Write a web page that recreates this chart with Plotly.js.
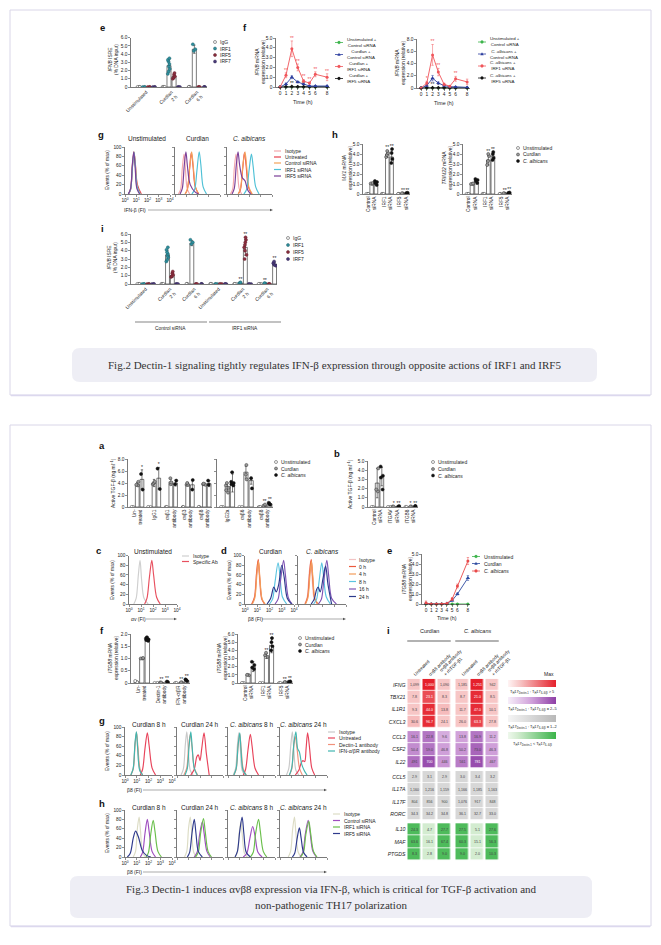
<!DOCTYPE html>
<html><head><meta charset="utf-8">
<script src="https://cdn.plot.ly/plotly-3.0.1.min.js"></script>
<style>html,body{margin:0;padding:0;background:#fff;}#chart{width:661px;height:945px;}</style>
</head><body><div id="chart"></div>
<script>
// ================= DATA =================
const tick5=['0','1.0','2.0','3.0','4.0','5.0'];
const tick6=['0','1.0','2.0','3.0','4.0','5.0','6.0'];
const tick8=['0','2.0','4.0','6.0','8.0'];
const tick2=['0','0.5','1.0','1.5','2.0'];
const decadeLabels=['10<sup>0</sup>','10<sup>1</sup>','10<sup>2</sup>','10<sup>3</sup>','10<sup>4</sup>'];
const pctLabels=['0','20','40','60','80','100'];
const stimSeries=['Unstimulated','Curdlan','<i>C. albicans</i>'];
const z3=[0,0,0], z2=[0,0];

// Fig.2 e
const f2eGroups=['Unstimulated','Curdlan<br>2 h','Curdlan<br>6 h'];
const f2eSeries=['IgG','IRF1','IRF5','IRF7'];
const f2eMean=[[0,0,0],[0,2.6,4.6],[0,1.3,0],[0,0,0]];
const f2eErr=[[0,0,0],[0,0.75,0.5],[0,0.3,0],[0,0,0]];
const f2eDots=[[z3,z3,z3],[z3,[3.5,3.3,3.1,2.8,2.5,2.2,1.9,1.6],[5.2,4.6,4.4]],[z3,[1.7,1.5,1.3,1.15,1.0],z3],[z3,z3,z3]];

// Fig.2 f
const f2fTime=[0,1,2,3,4,5,6,8];
const f2fNamesC=['Unstimulated +<br>Control siRNA','Curdlan +<br>Control siRNA','Curdlan +<br>IRF1 siRNA','Curdlan +<br>IRF5 siRNA'];
const f2fNamesA=['Unstimulated +<br>Control siRNA','<i>C. albicans</i> +<br>Control siRNA','<i>C. albicans</i> +<br>IRF1 siRNA','<i>C. albicans</i> +<br>IRF5 siRNA'];
const f2fCurd=[[0,0,0,0,0,0,0,0],[0,0.3,1.0,0.5,0.3,0.1,0.1,0.1],[0,1.2,3.9,2.0,0.6,0.4,1.3,1.0],[0,0.03,0.05,0.03,0.03,0.02,0.02,0.02]];
const f2fCurdErr=[[0,0,0,0,0,0,0,0],[0,0.1,0.15,0.1,0.08,0.05,0.05,0.05],[0,0.25,0.8,0.35,0.15,0.1,0.25,0.35],[0,0,0,0,0,0,0,0]];
const f2fCurdStars=[['','','','','','','',''],['','','','','','','',''],['','**','**','**','**','**','**','**'],['','','**','**','**','','','']];
const f2fAlb=[[0,0,0,0,0,0,0,0],[0,0.4,1.6,0.8,0.4,0.2,0.2,0.1],[0,0.8,5.4,2.6,0.6,0.3,1.5,1.0],[0,0.03,0.05,0.03,0.03,0.02,0.02,0.02]];
const f2fAlbErr=[[0,0,0,0,0,0,0,0],[0,0.15,0.45,0.2,0.1,0.05,0.05,0.05],[0,0.3,1.7,0.6,0.2,0.1,0.4,0.45],[0,0,0,0,0,0,0,0]];
const f2fAlbStars=[['','','','','','','',''],['','','','','','','',''],['','*','**','**','','','**',''],['','','**','*','','','','']];

// Fig.2 g  (x = log10 fluorescence, y = % of max)
const f2gNames=['Isotype','Untreated','Control siRNA','IRF1 siRNA','IRF5 siRNA'];
const f2gUnstim=[
 [[0.3,0.5,0.65,0.78,0.9,1.05,1.3],[0,12,60,90,62,15,0]],
 [[0.3,0.5,0.65,0.8,0.92,1.1,1.45],[0,10,55,88,65,20,0]],
 [[0.3,0.5,0.65,0.8,0.92,1.08,1.35],[0,10,58,90,62,16,0]],
 [[0.3,0.5,0.66,0.8,0.92,1.08,1.35],[0,10,56,89,60,15,0]],
 [[0.3,0.5,0.65,0.78,0.9,1.05,1.3],[0,12,62,90,58,12,0]]];
const f2gCurd=[
 [[0.3,0.5,0.65,0.8,0.92,1.08,1.3],[0,10,55,85,55,12,0]],
 [[0.9,1.1,1.3,1.45,1.6,1.8,2.1],[0,10,55,88,60,15,0]],
 [[0.9,1.1,1.3,1.48,1.62,1.82,2.1],[0,10,55,90,60,15,0]],
 [[1.5,1.75,1.95,2.15,2.3,2.5,2.8],[0,10,50,90,62,15,0]],
 [[0.45,0.65,0.82,0.97,1.1,1.35,1.8,2.1],[0,12,60,90,60,20,4,0]]];
const f2gAlb=[
 [[0.3,0.5,0.65,0.8,0.92,1.08,1.3],[0,10,55,85,55,12,0]],
 [[1.0,1.2,1.4,1.55,1.7,1.9,2.2],[0,10,55,88,60,15,0]],
 [[1.0,1.2,1.4,1.6,1.75,1.95,2.25],[0,12,58,90,58,14,0]],
 [[1.5,1.75,1.95,2.17,2.32,2.55,2.85],[0,10,48,85,60,15,0]],
 [[0.45,0.65,0.82,0.98,1.12,1.35,1.6,1.85,2.1],[0,12,60,90,62,35,28,8,0]]];

// Fig.2 h
const f2hGroups=['Control<br>siRNA','IRF1<br>siRNA','IRF5<br>siRNA'];
const f2hMx1Mean=[[0,0,0],[1.0,4.0,0.05],[1.05,3.7,0.08]];
const f2hMx1Err=[[0,0,0],[0.05,0.35,0.03],[0.15,0.6,0.04]];
const f2hMx1Dots=[[z3,z3,z3],[[1.0,1.05,1.1],[4.3,4.1,3.9,3.7],[0.03,0.05,0.08]],[[0.9,1.1,1.2,1.3],[4.5,4.1,3.5,3.1],[0.05,0.1,0.12]]];
const f2hMx1Stars=[['','',''],['','**','**'],['','**','**']];
const f2hTrimMean=[[0,0,0],[1.0,3.4,0.05],[1.2,3.8,0.1]];
const f2hTrimErr=[[0,0,0],[0.05,0.5,0.03],[0.2,0.4,0.05]];
const f2hTrimDots=[[z3,z3,z3],[[1.0,1.05,1.0],[4.0,3.8,3.3,2.9],[0.03,0.05,0.08]],[[1.1,1.3,1.4,1.5],[4.2,4.0,3.6,3.4],[0.08,0.1,0.15]]];
const f2hTrimStars=[['','',''],['','**','**'],['','**','**']];

// Fig.2 i
const f2iGroups=['Unstimulated','Curdlan<br>2 h','Curdlan<br>6 h','Unstimulated','Curdlan<br>2 h','Curdlan<br>6 h'];
const f2iMean=[[0,0,0,0,0,0],[0,3.5,4.9,0,0.12,0.08],[0,1.05,0,0,4.4,0],[0,0,0,0,0,2.4]];
const f2iErr=[[0,0,0,0,0,0],[0,0.55,0.3,0,0.08,0.05],[0,0.25,0,0,0.95,0],[0,0,0,0,0,0.2]];
const f2iDots=[[z3,z3,z3,z3,z3,z3],[z3,[4.4,4.1,3.8,3.6,3.4,3.2,2.9,2.7],[5.3,5.0,4.8],z3,[0.2,0.12,0.08],[0.1,0.06,0.05]],[z3,[1.5,1.3,1.1,0.95,0.85],z3,z3,[5.6,5.3,5.0,4.7,4.4,4.0,3.5,3.0],z3],[z3,z3,z3,z3,z3,[2.7,2.5,2.3,2.2]]];
const f2iStars=[['','','','','',''],['','','','','**','**'],['','','','','**',''],['','','','','','**']];

// Fig.3 a
const f3aGroups1=['Un-<br>treated','IgG1','αvβ1<br>antibody','αvβ3<br>antibody','αvβ8<br>antibody'];
const f3aMean1=[[0,0,0,0,0],[3.8,4.0,4.2,3.8,3.8],[4.6,4.8,4.0,3.7,3.9]];
const f3aErr1=[[0,0,0,0,0],[0.3,0.6,0.5,0.3,0.2],[1.6,1.8,0.5,0.8,0.5]];
const f3aDots1=[[z2,z2,z2,z2,z2],[[4.2,3.7,3.6],[4.2,4.0,3.8],[4.8,4.1,3.8],[4.0,3.7,3.7],[3.9,3.8,3.7]],[[5.5,2.9],[6.4,3.0],[4.4,3.8],[4.5,2.9],[4.4,3.7]]];
const f3aStars1=[['','','','',''],['','','','',''],['*','*','','','']];
const f3aGroups2=['IgG2a','αvβ6<br>antibody','αvβ8<br>antibody'];
const f3aMean2=[[0,0,0],[3.4,5.8,0.25],[4.0,4.4,0.55]];
const f3aErr2=[[0,0,0],[0.6,1.0,0.15],[1.5,0.6,0.25]];
const f3aDots2=[[z2,z2,z2],[[4.0,3.6,3.2,2.8,2.4],[7.0,5.4,4.6],[0.4,0.2,0.1]],[[5.8,4.2,4.0,3.8,3.6],[4.8,3.1],[0.7,0.5,0.4]]];
const f3aStars2=[['','',''],['','','**'],['','','**']];

// Fig.3 b
const f3bGroups=['Control<br>siRNA','ITGAV<br>siRNA','ITGB8<br>siRNA'];
const f3bMean=[[0,0,0],[2.6,0.05,0.05],[3.3,0.08,0.1]];
const f3bErr=[[0,0,0],[1.6,0.02,0.02],[1.0,0.03,0.03]];
const f3bDots=[[z2,z2,z2],[[4.2,1.9,1.7],[0.05,0.05],[0.05,0.05]],[[4.4,3.4,3.2,1.9],[0.1,0.05],[0.1,0.1]]];
const f3bStars=[['','',''],['','*','*'],['','**','**']];

// Fig.3 c
const f3cNames=['Isotype','Specific Ab'];
const f3cCurves=[
 [[0.4,0.6,0.78,0.92,1.05,1.25,1.6],[0,12,60,90,50,12,0]],
 [[1.3,1.5,1.7,1.9,2.05,2.3,2.6],[0,12,55,90,60,14,0]]];

// Fig.3 d
const f3dNames=['Isotype','0 h','4 h','8 h','16 h','24 h'];
const f3dCurd=[
 [[0.55,0.75,0.92,1.05,1.17,1.35,1.6],[0,12,60,88,55,10,0]],
 [[0.55,0.78,0.95,1.08,1.2,1.38,1.6],[0,14,65,92,55,10,0]],
 [[0.6,0.8,0.97,1.1,1.22,1.4,1.65],[0,12,60,88,52,10,0]],
 [[2.0,2.25,2.45,2.7,2.85,3.05,3.4],[0,10,45,85,60,15,0]],
 [[2.45,2.7,2.9,3.15,3.3,3.55,3.85],[0,10,48,90,60,12,0]],
 [[1.8,2.1,2.35,2.55,2.75,3.0,3.2,3.45,3.8],[0,12,35,25,40,80,55,12,0]]];
const f3dAlb=[
 [[0.55,0.75,0.92,1.05,1.17,1.35,1.6],[0,12,60,88,55,10,0]],
 [[0.6,0.8,0.97,1.1,1.22,1.4,1.65],[0,14,65,92,55,10,0]],
 [[0.62,0.82,1.0,1.12,1.25,1.42,1.7],[0,12,60,88,52,10,0]],
 [[1.3,1.55,1.75,1.98,2.12,2.35,2.7],[0,10,45,85,60,15,0]],
 [[1.7,1.95,2.15,2.4,2.55,2.8,3.2],[0,10,48,90,60,12,0]],
 [[1.1,1.35,1.55,1.68,1.85,2.1,2.3,2.5,2.8],[0,10,30,35,25,55,78,40,0]]];

// Fig.3 e
const f3eTime=[0,1,2,3,4,5,6,8];
const f3eVals=[[0,0,0,0,0,0,0,0],[0.05,0,0,0,0.05,0.35,1.0,2.6],[0.1,0,0,0,0.05,0.5,1.8,4.3]];
const f3eErr=[[0,0,0,0,0,0,0,0],[0.05,0,0,0,0.03,0.08,0.1,0.25],[0.2,0,0,0,0.05,0.15,0.2,0.35]];

// Fig.3 f
const f3fGroups1=['Un-<br>treated','Dectin-1<br>antibody','IFN-α/βR<br>antibody'];
const f3fMean1=[[0.05,0,0],[1.0,0.02,0.03],[1.8,0.05,0.1]];
const f3fErr1=[[0.04,0,0],[0.03,0.01,0.01],[0.08,0.02,0.05]];
const f3fDots1=[[[0.08,0.03],z2,z2],[[1.0,1.0,1.02],[0.02,0.02],[0.02,0.03]],[[1.87,1.82,1.78,1.75,1.72],[0.04,0.06],[0.08,0.12,0.15]]];
const f3fStars1=[['','',''],['','**','**'],['','**','**']];
const f3fGroups2=['Control<br>siRNA','IRF1<br>siRNA','IRF5<br>siRNA'];
const f3fMean2=[[0,0,0],[1.0,3.3,0.1],[2.0,4.6,0.15]];
const f3fErr2=[[0,0,0],[0.1,0.3,0.05],[0.6,0.9,0.08]];
const f3fDots2=[[z2,z2,z2],[[1.0,0.95],[3.7,3.4,3.2],[0.1,0.12]],[[2.6,2.2,1.9,1.7],[5.5,5.0,4.5,4.0],[0.2,0.15,0.1]]];
const f3fStars2=[['','',''],['','**','**'],['','**','**']];

// Fig.3 g
const f3gNames=['Isotype','Untreated','Dectin-1 antibody','IFN-α/βR antibody'];
const f3gTitles=['Curdlan 8 h','Curdlan 24 h','<i>C. albicans</i> 8 h','<i>C. albicans</i> 24 h'];
const f3gPanels=[
 [[[0.5,0.7,0.85,0.97,1.08,1.25,1.5],[0,15,65,90,55,10,0]],
  [[1.3,1.5,1.7,1.9,2.05,2.3,2.6],[0,12,55,88,62,15,0]],
  [[0.5,0.7,0.85,0.98,1.1,1.28,1.5],[0,12,60,88,58,12,0]],
  [[0.5,0.7,0.85,0.97,1.08,1.25,1.5],[0,14,66,90,55,10,0]]],
 [[[0.35,0.55,0.72,0.85,0.97,1.15,1.4],[0,12,62,90,55,10,0]],
  [[1.2,1.5,1.72,1.85,2.0,2.15,2.35,2.55,2.8],[0,12,38,42,30,55,88,45,0]],
  [[0.6,0.85,1.0,1.15,1.3,1.5,1.8],[0,15,55,85,60,15,0]],
  [[0.7,0.9,1.05,1.2,1.32,1.5,1.75],[0,14,60,90,58,14,0]]],
 [[[0.45,0.65,0.8,0.92,1.05,1.2,1.45],[0,14,62,88,55,10,0]],
  [[1.3,1.5,1.7,1.9,2.05,2.3,2.6],[0,12,52,85,60,14,0]],
  [[0.5,0.7,0.85,1.0,1.12,1.3,1.55],[0,12,58,86,55,12,0]],
  [[0.5,0.7,0.86,1.0,1.1,1.28,1.55],[0,14,62,88,55,10,0]]],
 [[[0.55,0.75,0.92,1.05,1.17,1.35,1.6],[0,14,62,90,55,10,0]],
  [[1.3,1.6,1.8,1.95,2.1,2.22,2.35,2.5,2.7,2.95],[0,10,25,30,28,55,88,60,15,0]],
  [[0.8,1.0,1.15,1.3,1.45,1.65,1.9],[0,12,55,80,55,15,0]],
  [[0.8,1.0,1.18,1.35,1.5,1.65,1.85,2.05,2.3],[0,15,65,90,55,48,22,10,0]]]];

// Fig.3 h
const f3hNames=['Isotype','Control siRNA','IRF1 siRNA','IRF5 siRNA'];
const f3hPanels=[
 [[[0.7,0.9,1.05,1.2,1.32,1.5,1.75],[0,12,60,85,55,10,0]],
  [[1.3,1.5,1.7,1.9,2.05,2.3,2.6],[0,10,50,80,55,12,0]],
  [[1.8,2.0,2.2,2.4,2.55,2.8,3.1],[0,10,50,78,55,12,0]],
  [[0.2,0.45,0.7,0.9,1.15,1.45,1.8,2.2],[0,8,40,55,42,15,4,0]]],
 [[[0.65,0.85,1.0,1.15,1.27,1.45,1.7],[0,12,60,85,55,10,0]],
  [[1.5,1.75,1.95,2.2,2.35,2.6,2.9],[0,10,45,75,52,12,0]],
  [[1.6,1.85,2.05,2.3,2.45,2.7,3.0],[0,10,50,82,55,12,0]],
  [[0.9,1.1,1.3,1.5,1.65,1.85,2.2],[0,10,50,80,50,12,0]]],
 [[[0.6,0.8,0.95,1.1,1.22,1.4,1.65],[0,10,50,75,45,8,0]],
  [[1.3,1.6,1.85,2.1,2.3,2.55,2.9],[0,8,38,65,45,10,0]],
  [[1.9,2.15,2.35,2.6,2.75,3.0,3.3],[0,10,50,80,55,12,0]],
  [[0.6,0.8,1.0,1.2,1.35,1.55,1.9],[0,12,55,85,50,10,0]]],
 [[[0.7,0.9,1.08,1.23,1.35,1.55,1.8],[0,12,60,85,52,10,0]],
  [[1.7,1.95,2.15,2.4,2.55,2.8,3.1],[0,10,48,78,55,12,0]],
  [[1.75,2.0,2.2,2.45,2.6,2.85,3.15],[0,10,48,76,52,12,0]],
  [[1.05,1.25,1.45,1.65,1.8,2.0,2.3],[0,8,38,62,40,10,0]]]];

// Fig.3 i heat map
const hmCols=['Untreated','αvβ8 antibody','αvβ8 antibody<br>+ rhTGF-β1','Untreated','αvβ8 antibody','αvβ8 antibody<br>+ rhTGF-β1'];
const hmGenes=[['IFNG','TBX21','IL1R1','CXCL3'],['CCL3','CSF2','IL22'],['CCL5','IL17A','IL17F','RORC'],['IL10','MAF','PTGDS']];
const hmText=[
 [['1,099','1,000','1,090','1,185','1,251','942'],['7.8','23.1','8.3','8.7','21.0','8.5'],['9.3','44.0','13.8','11.7','47.0','10.1'],['30.6','96.7','24.1','26.0','63.3','27.8']],
 [['16.1','22.8','9.6','13.8','16.9','11.2'],['50.4','59.0','46.8','50.2','73.0','46.3'],['491','700','446','561','781','467']],
 [['2.9','3.1','2.9','3.0','3.4','3.2'],['1,160','1,216','1,159','1,166','1,185','1,163'],['804','856','900','1,076','917','848'],['34.3','34.2','34.8','36.1','32.7','33.0']],
 [['24.3','4.7','27.7','27.5','5.1','27.6'],['63.6','16.1','67.4','60.3','15.1','56.3'],['8.3','2.8','9.0','9.0','2.0','10.3']]];
const hmLevel=[
 [[0.25,1.0,0.25,0.25,1.0,0.25],[0.25,0.8,0.25,0.25,0.95,0.25],[0.25,0.95,0.3,0.25,0.95,0.25],[0.3,0.95,0.25,0.25,0.85,0.25]],
 [[0.6,0.72,0.42,0.48,0.72,0.42],[0.6,0.72,0.5,0.55,0.8,0.5],[0.75,0.92,0.55,0.68,0.92,0.55]],
 [[0.5,0.5,0.5,0.5,0.5,0.5],[0.5,0.5,0.5,0.5,0.5,0.5],[0.5,0.5,0.5,0.5,0.5,0.5],[0.5,0.5,0.5,0.5,0.5,0.5]],
 [[0.9,0.2,0.9,0.9,0.2,0.9],[0.9,0.2,0.9,0.9,0.2,0.9],[0.9,0.2,0.9,0.9,0.2,0.9]]];
const hmLegend=['T<sub>H</sub>17<sub>Dectin-1</sub> : T<sub>H</sub>17<sub>IL-6/β</sub> > 5','T<sub>H</sub>17<sub>Dectin-1</sub> : T<sub>H</sub>17<sub>IL-6/β</sub> = 2–5','T<sub>H</sub>17<sub>Dectin-1</sub> : T<sub>H</sub>17<sub>IL-6/β</sub> = 1–2','T<sub>H</sub>17<sub>Dectin-1</sub> < T<sub>H</sub>17<sub>IL-6/β</sub>'];

// ================= LAYOUT HELPERS =================
const W=661,H=945;
const px=x=>x/W, py=y=>1-y/H;
const F='"Liberation Sans", Arial, sans-serif';
const FS='"Liberation Serif", "Times New Roman", serif';
const traces=[], annotations=[], shapes=[];
const layout={width:W,height:H,margin:{l:0,r:0,t:0,b:0,pad:0},paper_bgcolor:'#ffffff',plot_bgcolor:'rgba(0,0,0,0)',showlegend:false,barmode:'overlay',boxmode:'overlay',font:{family:F,size:5,color:'#222'},annotations:annotations,shapes:shapes,hovermode:false};
const BASE={type:'linear',showline:true,linecolor:'#222',linewidth:0.6,ticks:'outside',ticklen:2,tickwidth:0.5,tickcolor:'#222',tickfont:{size:4.8,color:'#222',family:F},showgrid:false,zeroline:false,fixedrange:true,automargin:false};
let nAx=0;
function mkAxes(x0,x1,y0,y1,xo,yo){
  nAx++; const s=nAx===1?'':String(nAx);
  layout['xaxis'+s]=Object.assign({},BASE,{domain:[px(x0),px(x1)],anchor:'y'+s},xo||{});
  layout['yaxis'+s]=Object.assign({},BASE,{domain:[py(y1),py(y0)],anchor:'x'+s},yo||{});
  return {x:'x'+s,y:'y'+s};
}
function T(x,y,text,o){annotations.push(Object.assign({xref:'paper',yref:'paper',x:px(x),y:py(y),text:text,showarrow:false,xanchor:'left',yanchor:'middle',font:{family:F,size:5,color:'#222'}},o||{}));}
function L(x0,y0,x1,y1,c,w){shapes.push({type:'line',xref:'paper',yref:'paper',x0:px(x0),y0:py(y0),x1:px(x1),y1:py(y1),line:{color:c||'#222',width:w||0.6}});}
function C(x,y,r,fill,lc,lw){shapes.push({type:'circle',xref:'paper',yref:'paper',x0:px(x-r),x1:px(x+r),y0:py(y+r),y1:py(y-r),fillcolor:fill,line:{color:lc,width:lw}});}
function TRI(x,y,r,fill){shapes.push({type:'path',xref:'paper',yref:'paper',path:`M${px(x-r)},${py(y+r*0.8)} L${px(x+r)},${py(y+r*0.8)} L${px(x)},${py(y-r)} Z`,fillcolor:fill,line:{width:0}});}
function HEAD(x,y,c){shapes.push({type:'path',xref:'paper',yref:'paper',path:`M${px(x)},${py(y)} L${px(x-3)},${py(y-1.3)} L${px(x-3)},${py(y+1.3)} Z`,fillcolor:c,line:{width:0}});}
function letter(x,y,ch){T(x,y,'<b>'+ch+'</b>',{xanchor:'center',font:{family:F,size:9.5,color:'#111'}});}
function ytitle(x,y,text){T(x,y,text,{textangle:-90,xanchor:'center',yanchor:'middle',font:{family:F,size:4.9,color:'#222'}});}
function title(x,y,text){T(x,y,text,{xanchor:'center',font:{family:F,size:6.5,color:'#222'}});}
function arrowAxis(xt,xa0,xa1,y,text){T(xt,y,text);L(xa0,y,xa1-2,y,'#555',0.5);HEAD(xa1,y,'#555');}
function rrect(x0,y0,x1,y1,r){const X=px,Y=py;return `M${X(x0+r)},${Y(y0)} L${X(x1-r)},${Y(y0)} Q${X(x1)},${Y(y0)} ${X(x1)},${Y(y0+r)} L${X(x1)},${Y(y1-r)} Q${X(x1)},${Y(y1)} ${X(x1-r)},${Y(y1)} L${X(x0+r)},${Y(y1)} Q${X(x0)},${Y(y1)} ${X(x0)},${Y(y1-r)} L${X(x0)},${Y(y0+r)} Q${X(x0)},${Y(y0)} ${X(x0+r)},${Y(y0)} Z`;}

const DOT={
  open:{color:'#ffffff',line:{color:'#333',width:0.5}},
  gray:{color:'#9a9a9a',line:{color:'#333',width:0.5}},
  black:{color:'#111111',line:{color:'#111',width:0.5}},
  teal:{color:'#2f8f9d',line:{color:'#1d5c66',width:0.4}},
  wine:{color:'#8c2f3f',line:{color:'#5a1a25',width:0.4}},
  plum:{color:'#4a3a78',line:{color:'#2a2050',width:0.4}}};
const STIM=[DOT.open,DOT.gray,DOT.black];
const IRF=[DOT.open,DOT.teal,DOT.wine,DOT.plum];

function legendDots(x,ys,names,styles){ys.forEach((y,i)=>{C(x,y,1.5,styles[i].color,styles[i].line.color,0.5);T(x+3,y,names[i]);});}
function legendLines(x,ys,names,colors){ys.forEach((y,i)=>{L(x,y,x+7,y,colors[i],1.2);T(x+8.5,y,names[i]);});}
function legendLM(x,ys,names,colors,syms,fs){ys.forEach((y,i)=>{L(x,y,x+8,y,colors[i],0.8);if(syms[i]==='tri')TRI(x+4,y,1.7,colors[i]);else C(x+4,y,1.4,colors[i],colors[i],0.3);T(x+10,y,names[i],{font:{family:F,size:fs||5,color:'#222'}});});}

function starTrace(a,tx,ty,tt,color){
  const X=[],Y=[],S=[];tt.forEach((s,k)=>{if(s){X.push(tx[k]);Y.push(ty[k]);S.push(s);}});
  if(S.length)traces.push({type:'scatter',mode:'text',x:X,y:Y,text:S,textposition:'top center',textfont:{size:5,color:color,family:F},cliponaxis:false,xaxis:a.x,yaxis:a.y,hoverinfo:'skip'});
}
function barPanel(a,ng,means,errs,dots,stars,styles,step){
  const ns=means.length;
  for(let s=0;s<ns;s++){
    const xs=[];for(let g=0;g<ng;g++)xs.push(g+(s-(ns-1)/2)*step);
    traces.push({type:'bar',x:xs,y:means[s],width:step*0.8,xaxis:a.x,yaxis:a.y,marker:{color:'#ffffff',line:{color:'#222',width:0.6}},error_y:{type:'data',array:errs[s],visible:true,color:'#222',thickness:0.6,width:1.2},hoverinfo:'skip'});
    const bx=[],by=[];dots[s].forEach((arr,g)=>arr.forEach(v=>{bx.push(xs[g]);by.push(v);}));
    traces.push({type:'box',x:bx,y:by,xaxis:a.x,yaxis:a.y,boxpoints:'all',jitter:0.8,pointpos:0,width:step*0.75,line:{width:0,color:'rgba(0,0,0,0)'},fillcolor:'rgba(0,0,0,0)',marker:Object.assign({size:3.1,opacity:1},styles[s]),hoverinfo:'skip'});
    if(stars){const ty=xs.map((x,g)=>Math.max(means[s][g]+errs[s][g],Math.max.apply(null,dots[s][g])));starTrace(a,xs,ty,stars[s],'#222');}
  }
}
function linePanel(a,t,series,errs,colors,syms,stars,order){
  order.forEach(i=>{
    traces.push({type:'scatter',mode:'lines+markers',x:t,y:series[i],xaxis:a.x,yaxis:a.y,line:{color:colors[i],width:0.9},marker:{color:colors[i],size:syms[i]==='triangle-up'?3.8:3,symbol:syms[i]},error_y:{type:'data',array:errs[i],visible:true,color:colors[i],thickness:0.5,width:1.2},cliponaxis:false,hoverinfo:'skip'});
    if(stars){starTrace(a,t,series[i].map((v,k)=>v+errs[i][k]),stars[i],colors[i]);}
  });
}
function histPanel(a,curves,colors,order){(order||curves.map((c,i)=>i)).forEach(i=>{traces.push({type:'scatter',mode:'lines',x:curves[i][0],y:curves[i][1],xaxis:a.x,yaxis:a.y,line:{color:colors[i],width:1.15,shape:'spline',smoothing:0.9},hoverinfo:'skip'});});}
function histAxes(x0,x1,y0,y1,lx,ly){return mkAxes(x0,x1,y0,y1,{range:[0,4],tickvals:[0,1,2,3,4],ticktext:decadeLabels,showticklabels:lx},{range:[0,100],tickvals:[0,20,40,60,80,100],ticktext:pctLabels,showticklabels:ly});}
function barX(ng,labels,angle){return {range:[-0.55,ng-0.55],tickvals:labels.map((l,i)=>i),ticktext:labels,tickangle:angle,ticks:''};}

// ================= CARDS =================
shapes.push({type:'rect',xref:'paper',yref:'paper',x0:px(10),x1:px(651),y0:py(395),y1:py(10),fillcolor:'#ffffff',line:{color:'#d9d6e8',width:1},layer:'below'});
shapes.push({type:'rect',xref:'paper',yref:'paper',x0:px(10),x1:px(651),y0:py(926),y1:py(425),fillcolor:'#ffffff',line:{color:'#d9d6e8',width:1},layer:'below'});
L(11,395.5,650,395.5,'#dcd8ee',1.5);L(11,926.5,650,926.5,'#dcd8ee',1.5);
shapes.push({type:'path',xref:'paper',yref:'paper',path:rrect(72,348,597,382,8),fillcolor:'#eeeef5',line:{width:0},layer:'below'});
shapes.push({type:'path',xref:'paper',yref:'paper',path:rrect(70,876,592,918,8),fillcolor:'#eeeef5',line:{width:0},layer:'below'});
T(334.5,365,'Fig.2 Dectin-1 signaling tightly regulates IFN-β expression through opposite actions of IRF1 and IRF5',{xanchor:'center',font:{family:FS,size:11,color:'#333'}});
T(331,889,'Fig.3 Dectin-1 induces αvβ8 expression via IFN-β, which is critical for TGF-β activation and',{xanchor:'center',font:{family:FS,size:11,color:'#333'}});
T(331,905,'non-pathogenic TH17 polarization',{xanchor:'center',font:{family:FS,size:11,color:'#333'}});

// ================= FIG 2 =================
letter(102,27,'e');
const aE=mkAxes(131,207,37.7,87,Object.assign(barX(3,f2eGroups,-45),{range:[-0.6,2.4]}),{range:[0,6],tickvals:[0,1,2,3,4,5,6],ticktext:tick6});
barPanel(aE,3,f2eMean,f2eErr,f2eDots,null,IRF,0.2);
ytitle(113,60,'<i>IFNB</i> ISRE<br>(% DNA input)');
legendDots(215,[42,48.5,55,61.5],f2eSeries,IRF);

letter(245,27,'f');
const fCols=['#3cb44b','#2c3e9e','#f0555a','#111111'];
const fSyms=['circle','triangle-up','circle','diamond'];
const aF1=mkAxes(276,330,38,87,{range:[-0.7,8.5],tickvals:f2fTime,ticktext:f2fTime.map(String)},{range:[0,5],tickvals:[0,1,2,3,4,5],ticktext:tick5});
linePanel(aF1,f2fTime,f2fCurd,f2fCurdErr,fCols,fSyms,f2fCurdStars,[0,3,1,2]);
ytitle(261,62,'<i>IFNB</i> mRNA<br>expression (relative)');
T(303,102,'Time (h)',{xanchor:'center',font:{family:F,size:5.3,color:'#222'}});
legendLM(335,[42.5,54.5,66.5,78.5],f2fNamesC,fCols,['c','tri','c','c'],4.4);
const aF2=mkAxes(417,470,39,88,{range:[-0.7,8.5],tickvals:f2fTime,ticktext:f2fTime.map(String)},{range:[0,8],tickvals:[0,2,4,6,8],ticktext:tick8});
linePanel(aF2,f2fTime,f2fAlb,f2fAlbErr,fCols,fSyms,f2fAlbStars,[0,3,1,2]);
ytitle(401,63,'<i>IFNB</i> mRNA<br>expression (relative)');
T(444,103,'Time (h)',{xanchor:'center',font:{family:F,size:5.3,color:'#222'}});
legendLM(478,[42,54,66,78],f2fNamesA,fCols,['c','tri','c','c'],4.4);

letter(101,135,'g');
const gCols=['#f4a8ad','#e8404e','#f4a259','#4fc1d6','#7b3f98'];
const aG1=histAxes(125,170,147,194,true,true);
const aG2=histAxes(175,220,147,194,false,false);
const aG3=histAxes(227,272,147,194,false,false);
histPanel(aG1,f2gUnstim,gCols);histPanel(aG2,f2gCurd,gCols);histPanel(aG3,f2gAlb,gCols);
title(147,139,'Unstimulated');title(197,139,'Curdlan');title(249,139,'<i>C. albicans</i>');
ytitle(107,170,'Events (% of max)');
legendLines(274,[151,157,163,169.5,176],f2gNames,gCols);
arrowAxis(122,148,273,210,'IFN-β (FI)');

letter(335,134,'h');
const aH1=mkAxes(363,410,144,194,barX(3,f2hGroups,-90),{range:[0,5],tickvals:[0,1,2,3,4,5],ticktext:tick5});
barPanel(aH1,3,f2hMx1Mean,f2hMx1Err,f2hMx1Dots,f2hMx1Stars,STIM,0.28);
ytitle(347,168,'<i>MX1</i> mRNA<br>expression (relative)');
const aH2=mkAxes(463,512,144,194,barX(3,f2hGroups,-90),{range:[0,5],tickvals:[0,1,2,3,4,5],ticktext:tick5});
barPanel(aH2,3,f2hTrimMean,f2hTrimErr,f2hTrimDots,f2hTrimStars,STIM,0.28);
ytitle(447,168,'<i>TRIM22</i> mRNA<br>expression (relative)');
legendDots(518,[148,154.5,161],stimSeries,STIM);

letter(102,228,'i');
const aI=mkAxes(131,277,234,284,Object.assign(barX(6,f2iGroups,-45),{range:[-0.6,5.4]}),{range:[0,6],tickvals:[0,1,2,3,4,5,6],ticktext:tick6});
barPanel(aI,6,f2iMean,f2iErr,f2iDots,f2iStars,IRF,0.2);
ytitle(113,258,'<i>IFNB</i> ISRE<br>(% DNA input)');
legendDots(288,[238,245,252,259],f2eSeries,IRF);
L(135,322,207,322,'#333',0.6);L(209,322,281,322,'#333',0.6);
T(171,328,'Control siRNA',{xanchor:'center',font:{family:F,size:4.8,color:'#222'}});
T(245,328,'IRF1 siRNA',{xanchor:'center',font:{family:F,size:4.8,color:'#222'}});

// ================= FIG 3 =================
letter(102,445,'a');
const aA1=mkAxes(128,212,459,507,barX(5,f3aGroups1,-90),{range:[0,8],tickvals:[0,2,4,6,8],ticktext:tick8});
barPanel(aA1,5,f3aMean1,f3aErr1,f3aDots1,f3aStars1,STIM,0.28);
const aA2=mkAxes(217,273,459,507,barX(3,f3aGroups2,-90),{range:[0,8],tickvals:[0,2,4,6,8],ticktext:tick8,showticklabels:false});
barPanel(aA2,3,f3aMean2,f3aErr2,f3aDots2,f3aStars2,STIM,0.28);
ytitle(113,483,'Active TGF-β (ng ml<sup>−1</sup>)');
legendDots(276,[462,468.5,475],stimSeries,STIM);

letter(337,453,'b');
const aB=mkAxes(368,418,461,507,barX(3,f3bGroups,-90),{range:[0,5],tickvals:[0,1,2,3,4,5],ticktext:tick5});
barPanel(aB,3,f3bMean,f3bErr,f3bDots,f3bStars,STIM,0.28);
ytitle(350,484,'Active TGF-β (ng ml<sup>−1</sup>)');
legendDots(433,[462,469,475.5],stimSeries,STIM);

letter(98,550,'c');
const cCols=['#cfcfcf','#e8505f'];
const aC=histAxes(129,177,555.5,604,true,true);
histPanel(aC,f3cCurves,cCols);
title(153,551,'Unstimulated');
ytitle(112,580,'Events (% of max)');
legendLines(182,[556,561.5],f3cNames,cCols);
arrowAxis(129,146,177,619,'αv (FI)');

letter(224,550,'d');
const dCols=['#f2c4c4','#ec5a3c','#f39c5a','#5bc4e0','#7e52b4','#2c3a8c'];
const aD1=histAxes(245,294,555.5,604,true,true);
const aD2=histAxes(298,346,555.5,604,false,false);
histPanel(aD1,f3dCurd,dCols);histPanel(aD2,f3dAlb,dCols);
title(270,551,'Curdlan');title(322,551,'<i>C. albicans</i>');
ytitle(229,580,'Events (% of max)');
legendLines(349,[559.5,566.5,574,581.5,589,596.5],f3dNames,dCols);
arrowAxis(246,262,346,619,'β8 (FI)');

letter(389,550,'e');
const eCols=['#3cb44b','#2c4aa0','#e84a4a'];
const aE3=mkAxes(422,470,554,604,{range:[-0.76,8.4],tickvals:f3eTime,ticktext:f3eTime.map(String)},{range:[0,5],tickvals:[0,1,2,3,4,5],ticktext:tick5});
linePanel(aE3,f3eTime,f3eVals,f3eErr,eCols,['circle','triangle-up','circle'],null,[0,1,2]);
ytitle(407,579,'<i>ITGB8</i> mRNA<br>expression (relative)');
T(447,618,'Time (h)',{xanchor:'center',font:{family:F,size:5.3,color:'#222'}});
legendLM(472,[556.5,563.5,571],stimSeries,eCols,['c','tri','c'],5);

letter(102,630,'f');
const aF3a=mkAxes(131,190,634,683,barX(3,f3fGroups1,-90),{range:[0,2],tickvals:[0,0.5,1,1.5,2],ticktext:tick2});
barPanel(aF3a,3,f3fMean1,f3fErr1,f3fDots1,f3fStars1,STIM,0.28);
ytitle(113,658,'<i>ITGB8</i> mRNA<br>expression (relative)');
const aF3b=mkAxes(238,293,634,683,barX(3,f3fGroups2,-90),{range:[0,6],tickvals:[0,1,2,3,4,5,6],ticktext:tick6});
barPanel(aF3b,3,f3fMean2,f3fErr2,f3fDots2,f3fStars2,STIM,0.28);
ytitle(222,658,'<i>ITGB8</i> mRNA<br>expression (relative)');
legendDots(300,[638,644.5,651],stimSeries,STIM);

letter(102,720,'g');
const g3Cols=['#c9c9c9','#e8435a','#f2917a','#41b6b0'];
const gx=[[125,172],[177,223],[228,275],[280,327]];
gx.forEach((b,i)=>{const a=histAxes(b[0],b[1],727,775,i===0,i===0);histPanel(a,f3gPanels[i],g3Cols,[0,2,1,3]);title((b[0]+b[1])/2,724,f3gTitles[i]);});
ytitle(107,751,'Events (% of max)');
legendLines(328,[732,738,744.5,751],f3gNames,g3Cols);
arrowAxis(125,143,327,790,'β8 (FI)');

letter(102,803,'h');
const h3Cols=['#dcdcc4','#9e4dbf','#6abf4b','#2e3a8c'];
gx.forEach((b,i)=>{const a=histAxes(b[0],b[1],810,857,i===0,i===0);histPanel(a,f3hPanels[i],h3Cols);title((b[0]+b[1])/2,807,f3gTitles[i]);});
ytitle(107,833,'Events (% of max)');
legendLines(333,[814,820.5,827,833.5],f3hNames,h3Cols);
arrowAxis(125,143,327,872,'β8 (FI)');

letter(388,630,'i');
const colX=[[0,1,2],[3.2,4.2,5.2]];
const rowY=[[0,1,2,3],[4.25,5.25,6.25],[7.5,8.5,9.5,10.5],[11.75,12.75,13.75]];
const hmScales=[
 [[0,'#fff4f4'],[0.25,'#f7c6c6'],[1,'#e5212c']],
 [[0,'#f7eef9'],[0.5,'#cf9fd9'],[1,'#8e3fa6']],
 [[0,'#f5f5f5'],[1,'#b8b8b8']],
 [[0,'#eef8ec'],[0.2,'#d3ecd0'],[1,'#3bb44a']]];
const legY=[680,697,714.5,731.5];
const aHM=mkAxes(406.5,499.5,678.8,860.2,{range:[-0.5,5.7],side:'top',tickvals:[0,1,2,3.2,4.2,5.2],ticktext:hmCols,tickangle:-45,ticks:'',showline:false,tickfont:{size:4.6,color:'#222',family:F}},{range:[14.25,-0.5],tickvals:rowY.flat(),ticktext:hmGenes.flat().map(g=>'<i>'+g+'</i>'),ticks:'',showline:false,tickfont:{size:5.2,color:'#222',family:F}});
hmGenes.forEach((genes,gi)=>{
  colX.forEach((cx,ci)=>{
    const z=hmLevel[gi].map(r=>r.slice(ci*3,ci*3+3));
    const tx=hmText[gi].map(r=>r.slice(ci*3,ci*3+3));
    const tr={type:'heatmap',x:cx,y:rowY[gi],z:z,text:tx,texttemplate:'%{text}',textfont:{size:3.6,family:F},zmin:0,zmax:1,colorscale:hmScales[gi],xgap:2.5,ygap:0.8,xaxis:aHM.x,yaxis:aHM.y,hoverinfo:'skip',showscale:ci===0};
    if(ci===0)tr.colorbar={orientation:'h',x:px(508),xanchor:'left',y:py(legY[gi]),yanchor:'top',len:48/W,lenmode:'fraction',thickness:7,thicknessmode:'pixels',showticklabels:false,ticks:'',outlinewidth:0,xpad:0,ypad:0};
    traces.push(tr);
  });
});
shapes.push({type:'line',xref:aHM.x,yref:'paper',x0:-0.45,x1:2.45,y0:py(641),y1:py(641),line:{color:'#222',width:0.7}});
shapes.push({type:'line',xref:aHM.x,yref:'paper',x0:2.75,x1:5.65,y0:py(641),y1:py(641),line:{color:'#222',width:0.7}});
annotations.push({xref:aHM.x,yref:'paper',x:1,y:py(636),text:'Curdlan',showarrow:false,font:{family:F,size:5.5,color:'#222'}});
annotations.push({xref:aHM.x,yref:'paper',x:4.2,y:py(636),text:'<i>C. albicans</i>',showarrow:false,font:{family:F,size:5.5,color:'#222'}});
T(556,674,'Max',{xanchor:'right',font:{family:F,size:5,color:'#222'}});
hmLegend.forEach((t,i)=>T(532,legY[i]+12,t,{xanchor:'center',font:{family:F,size:3.9,color:'#222'}}));

Plotly.newPlot('chart',traces,layout,{staticPlot:true,displayModeBar:false});
</script>
</body></html>
